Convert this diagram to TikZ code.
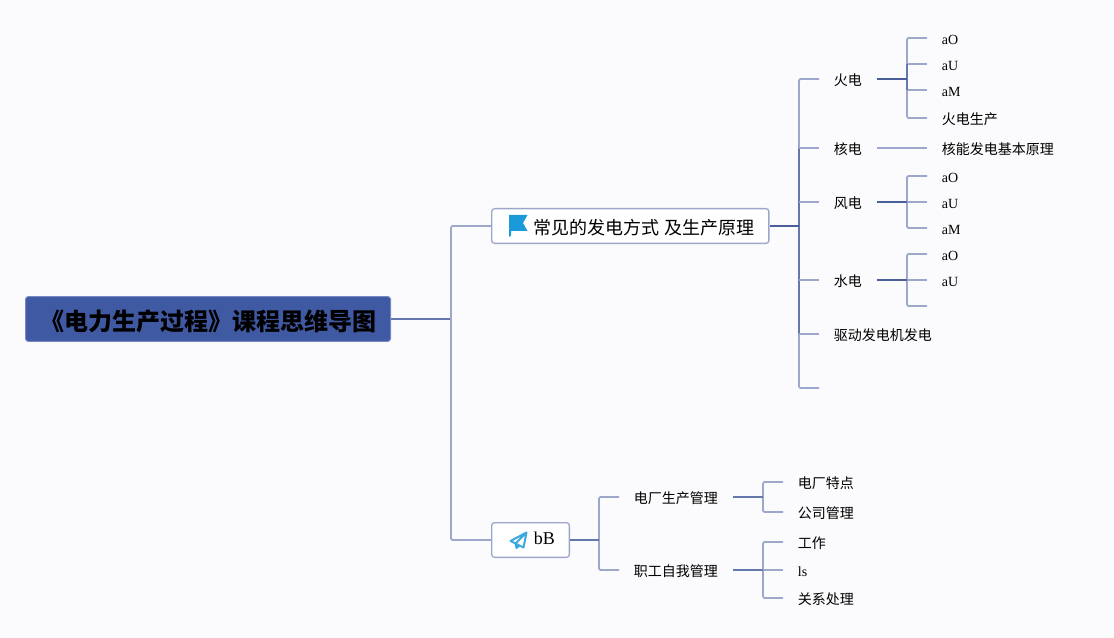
\documentclass[tikz,border=0pt]{standalone}
\usepackage{fontspec}
\setmainfont{Liberation Serif}
\newfontfamily\cjk{Noto Sans CJK SC}
\definecolor{paperbg}{HTML}{FBFBFD}
\definecolor{rootblue}{HTML}{4059A3}
\definecolor{rootedge}{HTML}{7488BE}
\definecolor{twigpale}{HTML}{9CA7CB}
\definecolor{twigmid}{HTML}{6478AD}
\definecolor{twigdark}{HTML}{4A5F99}
\definecolor{iconblue}{HTML}{1A9AD9}
\tikzset{
  rootbox/.style={fill=rootblue,draw=rootedge,line width=0.75pt,rounded corners=2.2pt,inner xsep=10.9pt,text height=20.25pt,text depth=3pt,inner ysep=5.2pt,font=\cjk\bfseries\fontsize{18}{18}\selectfont,anchor=west},
  topicbox/.style={fill=white,draw=twigpale,line width=1pt,rounded corners=2.2pt,inner xsep=10.9pt,text height=14.5pt,text depth=2pt,inner ysep=4.75pt,font=\fontsize{13.5}{13.5}\selectfont,anchor=west},
  leafnode/.style={inner xsep=11pt,inner ysep=0pt,text height=10.5pt,text depth=0.75pt,font=\fontsize{10.5}{10.5}\selectfont,anchor=west},
  twig/.style={draw=twigpale,line width=1.3pt,rounded corners=1pt},
  midtwig/.style={draw=twigmid,line width=1.3pt},
  darktwig/.style={draw=twigdark,line width=1.4pt}
}
\begin{document}
\begin{tikzpicture}[x=0.75pt,y=-0.75pt]
  \useasboundingbox (0,0) rectangle (1114,638);
  \fill[paperbg] (0,0) rectangle (1114,638);
  % root and the two topics
  \node[rootbox] (root) at (25,319) {\cjk《电力生产过程》课程思维导图};
  \node[topicbox] (power) at (491,226) {\hspace*{20.75pt}{\cjk 常见的发电方式} {\cjk 及生产原理}};
  \node[topicbox] (bb) at (491,540) {\hspace*{20.75pt}\raisebox{3pt}{bB}};
  \coordinate (trunk) at (451,319);
  \coordinate (powerspine) at (799,226);
  \coordinate (bbspine) at (599,540);
  % the ways of generating
  \node[leafnode] (fire) at (819,79) {\cjk 火电};
  \node[leafnode] (nuclear) at (819,148) {\cjk 核电};
  \node[leafnode] (wind) at (819,202) {\cjk 风电};
  \node[leafnode] (water) at (819,280) {\cjk 水电};
  \node[leafnode] (drive) at (819,334) {\cjk 驱动发电机发电};
  \coordinate (powerend) at (819,388);
  \coordinate (firespine) at (907,79);
  \coordinate (windspine) at (907,202);
  \coordinate (waterspine) at (907,280);
  \node[leafnode] (fireO) at (927,38) {aO};
  \node[leafnode] (fireU) at (927,64) {aU};
  \node[leafnode] (fireM) at (927,90) {aM};
  \node[leafnode] (fireprod) at (927,118) {\cjk 火电生产};
  \node[leafnode] (nuclearbasic) at (927,148) {\cjk 核能发电基本原理};
  \node[leafnode] (windO) at (927,176) {aO};
  \node[leafnode] (windU) at (927,202) {aU};
  \node[leafnode] (windM) at (927,228) {aM};
  \node[leafnode] (waterO) at (927,254) {aO};
  \node[leafnode] (waterU) at (927,280) {aU};
  \coordinate (waterend) at (927,306);
  % management side
  \node[leafnode] (plant) at (619,497) {\cjk 电厂生产管理};
  \node[leafnode] (staff) at (619,570) {\cjk 职工自我管理};
  \coordinate (plantspine) at (763,497);
  \coordinate (staffspine) at (763,570);
  \node[leafnode] (feature) at (783,482) {\cjk 电厂特点};
  \node[leafnode] (company) at (783,512) {\cjk 公司管理};
  \node[leafnode] (work) at (783,542) {\cjk 工作};
  \node[leafnode] (ls) at (783,570) {ls};
  \node[leafnode] (relation) at (783,598) {\cjk 关系处理};
  % connectors
  \draw[midtwig] (root.east) -- (trunk);
  \draw[twig] (trunk) |- (power.west);
  \draw[twig] (trunk) |- (bb.west);
  \draw[twig] (powerspine) |- (fire.west);
  \draw[twig] (powerspine) |- (powerend);
  \draw[midtwig] (powerspine |- nuclear.west) -- (powerspine |- drive.west);
  \draw[twig] (powerspine |- nuclear.west) -- (nuclear.west);
  \draw[twig] (powerspine |- wind.west) -- (wind.west);
  \draw[twig] (powerspine |- water.west) -- (water.west);
  \draw[twig] (powerspine |- drive.west) -- (drive.west);
  \draw[darktwig] (power.east) -- (powerspine);
  \draw[twig] (firespine) |- (fireO.west);
  \draw[twig] (firespine) |- (fireprod.west);
  \draw[twig] (firespine |- fireU.west) -- (fireU.west);
  \draw[twig] (firespine |- fireM.west) -- (fireM.west);
  \draw[midtwig] (firespine |- fireU.west) -- (firespine |- fireM.west);
  \draw[darktwig] (fire.east) -- (firespine);
  \draw[twig] (nuclear.east) -- (nuclearbasic.west);
  \draw[twig] (windspine) |- (windO.west);
  \draw[twig] (windspine) |- (windM.west);
  \draw[twig] (windspine) -- (windU.west);
  \draw[darktwig] (wind.east) -- (windspine);
  \draw[twig] (waterspine) |- (waterO.west);
  \draw[twig] (waterspine) |- (waterend);
  \draw[twig] (waterspine) -- (waterU.west);
  \draw[darktwig] (water.east) -- (waterspine);
  \draw[twig] (bbspine) |- (plant.west);
  \draw[twig] (bbspine) |- (staff.west);
  \draw[midtwig] (bb.east) -- (bbspine);
  \draw[twig] (plantspine) |- (feature.west);
  \draw[twig] (plantspine) |- (company.west);
  \draw[midtwig] (plant.east) -- (plantspine);
  \draw[twig] (staffspine) |- (work.west);
  \draw[twig] (staffspine) |- (relation.west);
  \draw[twig] (staffspine) -- (ls.west);
  \draw[midtwig] (staff.east) -- (staffspine);
  % icons
  \fill[iconblue] (509,215) -- (527.5,215) -- (523,223) -- (527.5,231) -- (511,231) -- (511,235.5) -- (509,237) -- cycle;
  \draw[iconblue!85!white,line width=1.5pt,line join=round] (526.5,532.5) -- (510.5,541) -- (515.5,543.5) -- (526.5,532.5) -- (523.5,547.5) -- (515.5,543.5) -- (516.5,548) -- (519.5,545.5);
\end{tikzpicture}
\end{document}
